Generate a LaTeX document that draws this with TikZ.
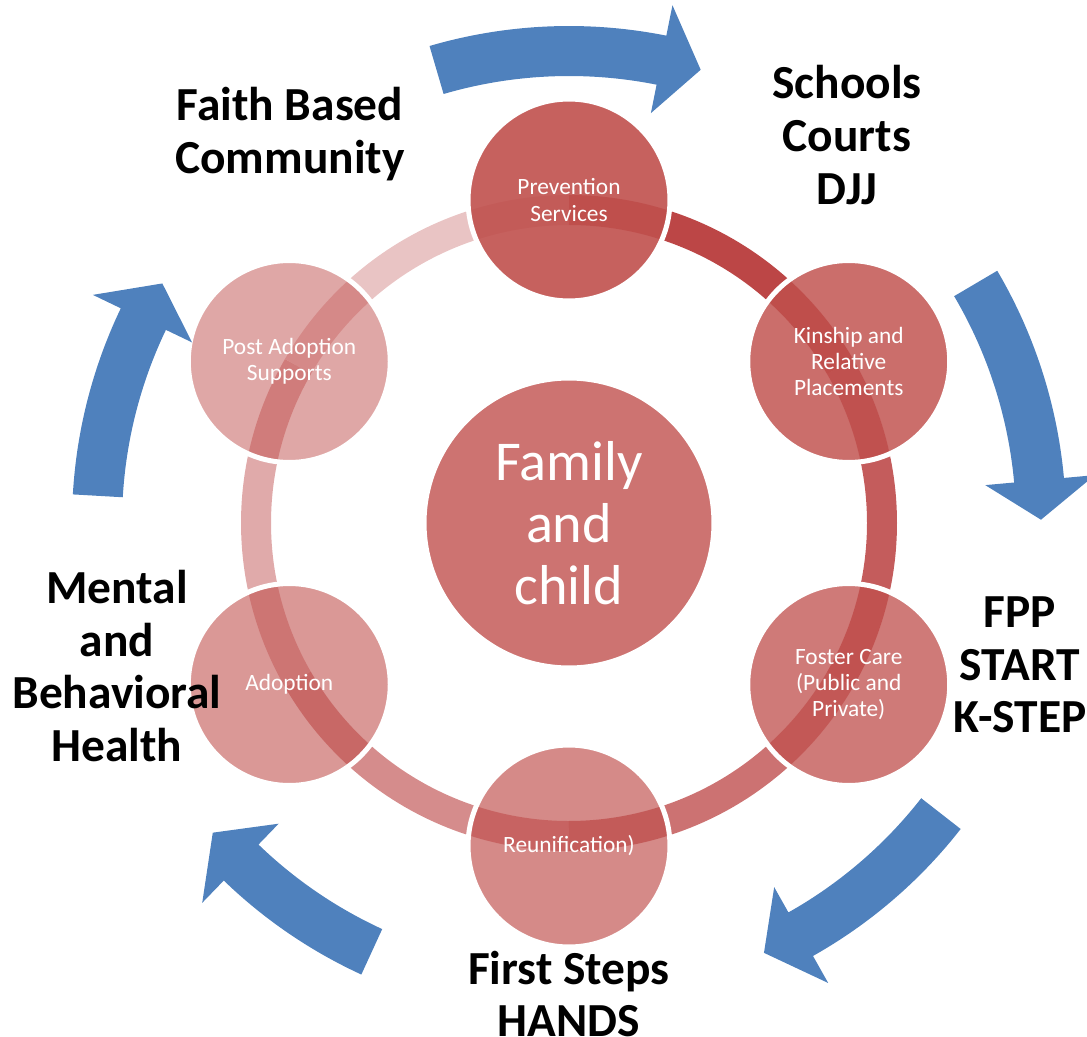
\documentclass[tikz,border=0pt]{standalone}
\usepackage{fontspec}
\setmainfont{Carlito}
\definecolor{accentred}{RGB}{192,80,77}
\definecolor{ringred}{RGB}{188,70,70}
\definecolor{arrowblue}{RGB}{79,129,189}

% curved block arrow around the centre: tail angle, neck angle, tip angle
\newcommand\cyclearrow[3]{%
  \fill[flow] (#1:497) arc[start angle=#1, end angle=#2, radius=9.94cm]
    -- (#2:528) -- (#3:472) -- (#2:418) -- (#2:447)
    arc[start angle=#2, end angle=#1, radius=8.94cm] -- cycle;}

\begin{document}
\begin{tikzpicture}[x=0.02cm, y=0.02cm,
  stage/.style={circle, draw=white, line width=0.1cm, fill=accentred,
    minimum size=4.04cm, inner sep=0pt, text=white, text opacity=1,
    align=center, font=\fontsize{13.3}{15}\selectfont},
  hub/.style={stage, minimum size=5.8cm, font=\fontsize{32}{35.4}\selectfont},
  partner/.style={align=center, text=black,
    font=\fontsize{27}{30}\selectfont\bfseries},
  ringseg/.style={line width=0.6cm, draw=ringred},
  flow/.style={fill=arrowblue}]

\useasboundingbox (0,0) rectangle (1087,1036);
\coordinate (C) at (569,513);

\begin{scope}[shift={(C)}]
  % ring segments, fading clockwise
  \draw[ringseg, draw opacity=1.00] (90:313)   arc[start angle=90,   end angle=30,   radius=6.26cm];
  \draw[ringseg, draw opacity=0.88] (30:313)   arc[start angle=30,   end angle=-30,  radius=6.26cm];
  \draw[ringseg, draw opacity=0.76] (-30:313)  arc[start angle=-30,  end angle=-90,  radius=6.26cm];
  \draw[ringseg, draw opacity=0.62] (-90:313)  arc[start angle=-90,  end angle=-150, radius=6.26cm];
  \draw[ringseg, draw opacity=0.46] (-150:313) arc[start angle=-150, end angle=-210, radius=6.26cm];
  \draw[ringseg, draw opacity=0.32] (150:313)  arc[start angle=150,  end angle=90,   radius=6.26cm];

  % service stages
  \node[stage, fill opacity=0.90] (prev)  at (90:323)   {Prevention\\Services};
  \node[stage, fill opacity=0.83] (kin)   at (30:323)   {Kinship and\\Relative\\Placements};
  \node[stage, fill opacity=0.76] (fost)  at (-30:323)  {Foster Care\\(Public and\\Private)};
  \node[stage, fill opacity=0.67] (reun)  at (-90:323)  {Reunification)};
  \node[stage, fill opacity=0.59] (adopt) at (-150:323) {Adoption};
  \node[stage, fill opacity=0.50] (post)  at (150:323)  {Post Adoption\\Supports};

  \node[hub, fill opacity=0.80] (core) at (0,0) {Family\\and\\child};

  % outer flow arrows
  \cyclearrow{106.3}{78.7}{73.8}
  \cyclearrow{30.5}{5.2}{0.4}
  \cyclearrow{-38}{-60.6}{-65.6}
  \cyclearrow{-114.7}{-134}{-139}
  \cyclearrow{176.7}{154.4}{149.5}
\end{scope}

% community partners
\node[partner] (faith)  at (290,902)  {Faith Based\\Community};
\node[partner] (courts) at (847,901)  {Schools\\Courts\\DJJ};
\node[partner] (fpp)    at (1020,371) {FPP\\START\\K-STEP};
\node[partner] (mental) at (117,370)  {Mental\\and\\Behavioral\\Health};
\node[partner] (first)  at (569,42)   {First Steps\\HANDS};
\end{tikzpicture}
\end{document}
